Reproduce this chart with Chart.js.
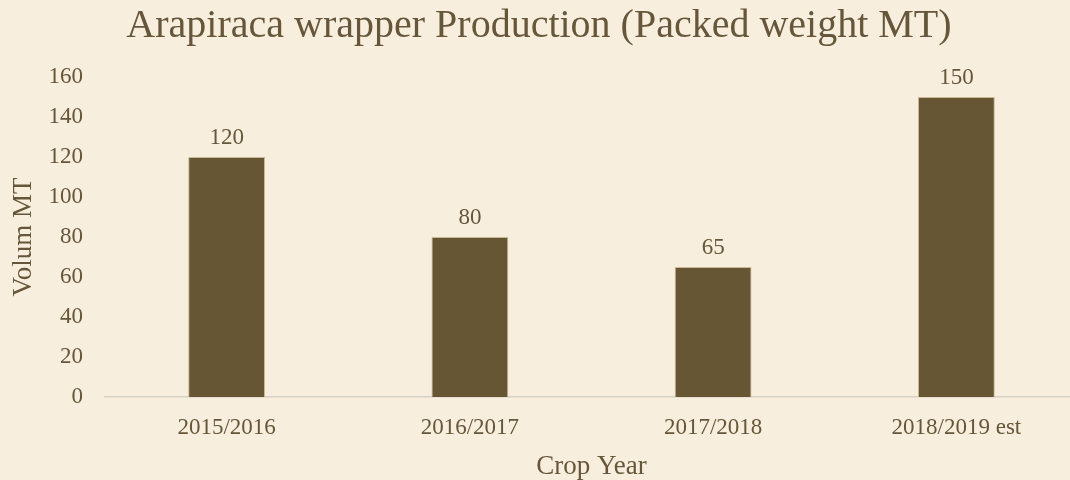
<!DOCTYPE html>
<html>
<head>
<meta charset="utf-8">
<title>Arapiraca wrapper Production</title>
<script src="https://cdn.jsdelivr.net/npm/chart.js@4/dist/chart.umd.min.js"></script>
<style>
  html, body { margin: 0; padding: 0; background: #f8eedd; overflow: hidden; }
  #wrap { width: 1070px; height: 480px; overflow: hidden; }
  canvas { display: block; }
</style>
</head>
<body>
<div id="wrap">
  <canvas id="prodChart" width="1090" height="480"></canvas>
</div>
<script>
const cropYears = ["2015/2016", "2016/2017", "2017/2018", "2018/2019 est"];
const volumes = [120, 80, 65, 150];
const yTicks = [0, 20, 40, 60, 80, 100, 120, 140, 160];

const textColor = "#66563a";
const barColor = "#675634";
const fontFamily = "'Liberation Serif', 'Times New Roman', serif";

// writes the value above each bar
const valueLabels = {
  id: "valueLabels",
  afterDatasetsDraw(chart) {
    const ctx = chart.ctx;
    const meta = chart.getDatasetMeta(0);
    ctx.save();
    ctx.font = "23px " + fontFamily;
    ctx.fillStyle = textColor;
    ctx.textAlign = "center";
    ctx.textBaseline = "alphabetic";
    meta.data.forEach((bar, i) => {
      ctx.fillText(String(volumes[i]), bar.x, bar.y - 13);
    });
    ctx.restore();
  }
};

const ctx = document.getElementById("prodChart").getContext("2d");

new Chart(ctx, {
  type: "bar",
  data: {
    labels: cropYears,
    datasets: [{
      label: "Volum MT",
      data: volumes,
      backgroundColor: barColor,
      borderColor: "#c9b996",
      borderWidth: 1,
      barPercentage: 0.316,
      categoryPercentage: 1
    }]
  },
  options: {
    responsive: false,
    animation: false,
    layout: { padding: { left: 0, right: 12, top: 0, bottom: 0 } },
    plugins: {
      legend: { display: false },
      tooltip: { enabled: false },
      title: {
        display: true,
        text: "Arapiraca wrapper Production (Packed weight MT)",
        color: textColor,
        font: { family: fontFamily, size: 40, weight: "normal", lineHeight: 1.2 },
        padding: { top: 2, bottom: 27 }
      }
    },
    scales: {
      x: {
        grid: { display: false, drawTicks: false },
        border: { display: true, color: "#d6d1c7", width: 1.5 },
        ticks: {
          color: textColor,
          padding: 17,
          font: { family: fontFamily, size: 23 }
        },
        title: {
          display: true,
          text: "Crop Year",
          color: textColor,
          font: { family: fontFamily, size: 27, lineHeight: 1.0 },
          padding: { top: 0, bottom: 0 }
        },
        afterFit(scale) { scale.height = 83; }
      },
      y: {
        min: 0,
        max: 160,
        afterBuildTicks(scale) { scale.ticks = yTicks.map(v => ({ value: v })); },
        grid: { display: false, drawTicks: false },
        border: { display: false },
        ticks: {
          color: textColor,
          padding: 22,
          font: { family: fontFamily, size: 23 }
        },
        title: {
          display: true,
          text: "Volum MT",
          color: textColor,
          font: { family: fontFamily, size: 27, lineHeight: 1.0 },
          padding: { top: 10, bottom: 0 }
        },
        afterFit(scale) { scale.width = 105; }
      }
    }
  },
  plugins: [valueLabels]
});
</script>
</body>
</html>
